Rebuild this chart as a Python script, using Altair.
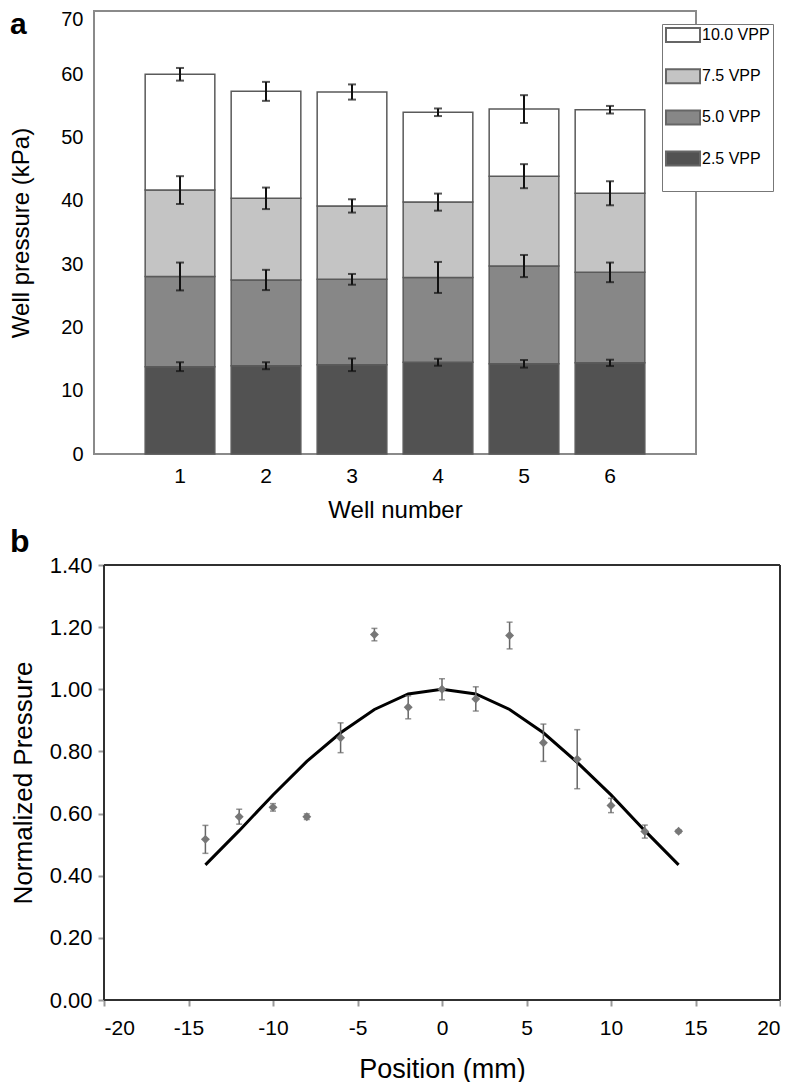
import altair as alt
import pandas as pd

# ---------------- panel a data ----------------
wells = ["1", "2", "3", "4", "5", "6"]
series = ["2.5 VPP", "5.0 VPP", "7.5 VPP", "10.0 VPP"]
legend_order = ["10.0 VPP", "7.5 VPP", "5.0 VPP", "2.5 VPP"]
legend_colors = ["#ffffff", "#c4c4c4", "#878787", "#525252"]

top_25 = [13.8, 13.95, 14.1, 14.5, 14.25, 14.4]
top_50 = [28.05, 27.5, 27.6, 27.9, 29.7, 28.7]
top_75 = [41.7, 40.4, 39.2, 39.8, 43.9, 41.2]
top_100 = [60.0, 57.3, 57.2, 54.0, 54.5, 54.4]

err_25 = [0.7, 0.55, 1.0, 0.55, 0.6, 0.5]
err_50 = [2.2, 1.6, 0.85, 2.45, 1.75, 1.55]
err_75 = [2.2, 1.7, 1.05, 1.35, 1.9, 1.9]
err_100 = [1.0, 1.5, 1.2, 0.6, 2.2, 0.6]

# ---------------- panel b data ----------------
pos_mm = [-14, -12, -10, -8, -6, -4, -2, 0, 2, 4, 6, 8, 10, 12, 14]
norm_p = [0.517, 0.590, 0.620, 0.590, 0.844, 1.176, 0.942, 1.000, 0.969, 1.173,
          0.828, 0.775, 0.626, 0.542, 0.543]
norm_err = [0.045, 0.024, 0.012, 0.009, 0.048, 0.020, 0.037, 0.034, 0.039, 0.043,
            0.060, 0.095, 0.023, 0.021, 0.005]
fit_x = [-14, -12, -10, -8, -6, -4, -2, 0, 2, 4, 6, 8, 10, 12, 14]
fit_y = [0.435, 0.545, 0.660, 0.768, 0.860, 0.935, 0.985, 1.000, 0.985, 0.935,
         0.860, 0.765, 0.660, 0.545, 0.435]
x_domain_b = [-20, 20]
y_domain_b = [0, 1.4]

panel_a_label = ["a"]
panel_b_label = ["b"]

FONT = "Liberation Sans"

# ---------- build table for panel a ----------
rows = []
levels = [top_25, top_50, top_75, top_100]
errs = [err_25, err_50, err_75, err_100]
for i, w in enumerate(wells):
    base = 0.0
    for s, lv, er in zip(series, levels, errs):
        rows.append(dict(well=w, series=s, base=base, top=lv[i],
                         lo=lv[i] - er[i], hi=lv[i] + er[i]))
        base = lv[i]
df_a = pd.DataFrame(rows)

x_a = alt.X("well:O",
            scale=alt.Scale(paddingInner=0.19, paddingOuter=0.595),
            axis=alt.Axis(title="Well number", labelAngle=0, ticks=False, domain=False,
                          labelFontSize=21, labelPadding=11, titleFontSize=24,
                          titlePadding=12, titleFontWeight="normal",
                          labelColor="black", titleColor="black"))
y_scale_a = alt.Scale(domain=[0, 70], nice=False)

bars = alt.Chart(df_a).mark_bar(stroke="#5a5a5a", strokeWidth=1.5).encode(
    x=x_a,
    y=alt.Y("base:Q", scale=y_scale_a,
            axis=alt.Axis(title="Well pressure (kPa)", values=list(range(0, 71, 10)),
                          ticks=False, domain=False, grid=False, labelFontSize=20,
                          labelPadding=11, titleFontSize=24, titlePadding=27,
                          labelOffset={"condition": {"test": "datum.value == 70",
                                                     "value": 8}, "value": 0},
                          titleFontWeight="normal", labelColor="black",
                          titleColor="black")),
    y2="top:Q",
    color=alt.Color("series:N",
                    scale=alt.Scale(domain=legend_order, range=legend_colors),
                    legend=alt.Legend(title=" ", titleOrient="bottom", titleFontSize=14,
                                      titlePadding=4, orient="none", legendX=568,
                                      legendY=13, fillColor="white",
                                      strokeColor="#777777", padding=3,
                                      symbolType="M-2.43,-1H2.43V1H-2.43Z",
                                      symbolSize=196, symbolStrokeColor="#666666",
                                      symbolStrokeWidth=2, symbolOffset=10,
                                      labelOffset=11, labelFontSize=16,
                                      labelColor="black", rowPadding=19.2)),
)

stems = alt.Chart(df_a).mark_rule(color="#111111", strokeWidth=2).encode(
    x="well:O", y="lo:Q", y2="hi:Q")
caps_lo = alt.Chart(df_a).mark_tick(color="#111111", thickness=2, size=8,
                                    orient="horizontal").encode(x="well:O", y="lo:Q")
caps_hi = alt.Chart(df_a).mark_tick(color="#111111", thickness=2, size=8,
                                    orient="horizontal").encode(x="well:O", y="hi:Q")

lab_a = alt.Chart(pd.DataFrame({"t": panel_a_label})).mark_text(
    fontSize=30, fontWeight="bold", align="left", baseline="alphabetic", color="black"
).encode(text="t:N", x=alt.value(-84), y=alt.value(23))

panel_a = alt.layer(bars, stems, caps_lo, caps_hi, lab_a).properties(
    width=602, height=443,
    view=alt.ViewBackground(stroke="#8a8a8a", strokeWidth=2))

# ---------- panel b ----------
df_p = pd.DataFrame({"pos": pos_mm, "val": norm_p})
df_p["lo"] = [v - e for v, e in zip(norm_p, norm_err)]
df_p["hi"] = [v + e for v, e in zip(norm_p, norm_err)]
df_fit = pd.DataFrame({"pos": fit_x, "val": fit_y})
df_frame = pd.DataFrame({
    "x1": [x_domain_b[0], x_domain_b[1], x_domain_b[0], x_domain_b[0]],
    "x2": [x_domain_b[0], x_domain_b[1], x_domain_b[1], x_domain_b[1]],
    "y1": [y_domain_b[0], y_domain_b[0], y_domain_b[0], y_domain_b[1]],
    "y2": [y_domain_b[1], y_domain_b[1], y_domain_b[0], y_domain_b[1]],
})

x_b = alt.X("pos:Q", scale=alt.Scale(domain=x_domain_b, nice=False, range=[10, 686]),
            axis=alt.Axis(title="Position (mm)", values=list(range(-20, 21, 5)),
                          labelExpr="'' + datum.value", tickSize=6,
                          tickColor="#999999", tickWidth=2,
                          domain=False, grid=False, labelFontSize=21, labelPadding=11,
                          titleFontSize=27, titlePadding=18, titleFontWeight="normal",
                          labelColor="black", titleColor="black"))
y_b = alt.Y("val:Q", scale=alt.Scale(domain=y_domain_b, nice=False),
            axis=alt.Axis(title="Normalized Pressure", offset=-10,
                          values=[0, 0.2, 0.4, 0.6, 0.8, 1.0, 1.2, 1.4], format=".2f",
                          tickSize=6, tickColor="#999999", tickWidth=2, domain=False,
                          grid=False, labelFontSize=22, labelPadding=6,
                          titleFontSize=26, titlePadding=13, titleFontWeight="normal",
                          labelColor="black", titleColor="black"))

frame_b = alt.Chart(df_frame).mark_rule(color="#303030", strokeWidth=2).encode(
    x=alt.X("x1:Q"), x2="x2:Q", y=alt.Y("y1:Q"), y2="y2:Q")
fit_line = alt.Chart(df_fit).mark_line(color="black", strokeWidth=3).encode(x=x_b, y=y_b)
err_b = alt.Chart(df_p).mark_rule(color="#666666", strokeWidth=1.5).encode(
    x="pos:Q", y="lo:Q", y2="hi:Q")
caps_b_lo = alt.Chart(df_p).mark_tick(color="#666666", thickness=1.5, size=6,
                                      orient="horizontal").encode(x="pos:Q", y="lo:Q")
caps_b_hi = alt.Chart(df_p).mark_tick(color="#666666", thickness=1.5, size=6,
                                      orient="horizontal").encode(x="pos:Q", y="hi:Q")
pts = alt.Chart(df_p).mark_point(shape="diamond", filled=True, color="#777777",
                                 size=80, opacity=1).encode(x="pos:Q", y="val:Q")

lab_b = alt.Chart(pd.DataFrame({"t": panel_b_label})).mark_text(
    fontSize=32, fontWeight="bold", align="left", baseline="alphabetic", color="black"
).encode(text="t:N", x=alt.value(-84), y=alt.value(-13))

panel_b = alt.layer(fit_line, frame_b, err_b, caps_b_lo, caps_b_hi, pts, lab_b).properties(
    width=686, height=435,
    view=alt.ViewBackground(stroke=None, strokeWidth=0))

chart = alt.concat(panel_a, panel_b, columns=1, spacing=3).properties(
    padding={"left": 0, "top": 0, "right": 0, "bottom": 0}
).configure(font=FONT).configure_axis(labelFont=FONT, titleFont=FONT).configure_legend(
    labelFont=FONT, titleFont=FONT)

chart.save("out.html", embed_options={"renderer": "svg", "actions": False})
